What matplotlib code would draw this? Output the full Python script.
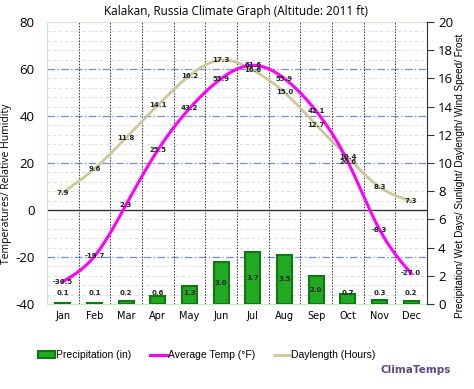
import numpy as np
import matplotlib
matplotlib.use("Agg")
import matplotlib.pyplot as plt
from matplotlib.patches import Patch
from matplotlib.lines import Line2D

months = ["Jan", "Feb", "Mar", "Apr", "May", "Jun", "Jul", "Aug", "Sep", "Oct", "Nov", "Dec"]
precip = [0.1, 0.1, 0.2, 0.6, 1.3, 3.0, 3.7, 3.5, 2.0, 0.7, 0.3, 0.2]
avg_temp = [-30.5, -19.7, 2.3, 25.5, 43.2, 55.9, 61.6, 55.9, 42.1, 20.6, -8.3, -27.0]
daylength = [7.9, 9.6, 11.8, 14.1, 16.2, 17.3, 16.6, 15.0, 12.7, 10.4, 8.3, 7.3]

def smooth(x, y, n=300):
    # natural cubic spline through the data points (rendering only)
    x = np.asarray(x, float); y = np.asarray(y, float)
    k = len(x); h = np.diff(x)
    A = np.zeros((k, k)); b = np.zeros(k)
    A[0, 0] = A[-1, -1] = 1
    for i in range(1, k - 1):
        A[i, i - 1] = h[i - 1]; A[i, i] = 2 * (h[i - 1] + h[i]); A[i, i + 1] = h[i]
        b[i] = 3 * ((y[i + 1] - y[i]) / h[i] - (y[i] - y[i - 1]) / h[i - 1])
    c = np.linalg.solve(A, b)
    xs = np.linspace(x[0], x[-1], n); ys = np.empty_like(xs)
    for j, t in enumerate(xs):
        i = min(np.searchsorted(x, t, side="right") - 1, k - 2)
        d = t - x[i]
        bb = (y[i + 1] - y[i]) / h[i] - h[i] * (2 * c[i] + c[i + 1]) / 3
        dd = (c[i + 1] - c[i]) / (3 * h[i])
        ys[j] = y[i] + bb * d + c[i] * d ** 2 + dd * d ** 3
    return xs, ys

W, H = 474, 389
fig = plt.figure(figsize=(W / 100, H / 100), dpi=100)
ax = fig.add_axes([47 / W, 1 - 304 / H, 380 / W, 282 / H])
ax2 = ax.twinx()

x = np.arange(12)
ax.set_xlim(-0.5, 11.5)
ax.set_ylim(-40, 80)
ax2.set_ylim(0, 20)

# grid
for v in np.arange(-40, 81, 4):
    if v % 20 != 0:
        ax.axhline(v, color="#dadada", lw=0.6, ls=(0, (4, 3)), zorder=0)
for v in [-20, 20, 40, 60]:
    ax.axhline(v, color="#6f8fd8", lw=0.9, ls=(0, (6, 2, 1, 2)), zorder=0)
ax.axhline(0, color="#333333", lw=1.0, zorder=1)
for b in np.arange(0.5, 11.5, 1):
    ax.axvline(b, color="#333333", lw=0.7, ls=(0, (1.5, 1.5)), zorder=0)

# bars on right axis
ax2.bar(x, precip, width=0.48, color="#22a822", edgecolor="#0d7a0d", lw=1.5, zorder=2)
for xi, v in zip(x, precip):
    ax2.text(xi, max(v / 2, 0.75), f"{v:.1f}", ha="center", va="center",
             fontsize=5, fontweight="bold", color="#222222", zorder=5)

# daylength on right axis
xs, ys = smooth(x, daylength)
ax2.plot(xs, ys, color="#c9c99a", lw=2, zorder=3)
for xi, v in zip(x, daylength):
    ax2.text(xi, v, f"{v:.1f}", ha="center", va="center", fontsize=5,
             fontweight="bold", color="#222222", zorder=5)

# temperature on left axis
xs, ys = smooth(x, avg_temp)
ax2.plot(xs, (ys + 40) / 6, color="#ff00ff", lw=2.2, zorder=4)
for xi, v in zip(x, avg_temp):
    ax2.text(xi, (v + 40) / 6, f"{v:.1f}", ha="center", va="center", fontsize=5,
             fontweight="bold", color="#222222", zorder=5)

ax.set_yticks(np.arange(-40, 81, 20))
ax.set_yticklabels([str(v) for v in range(-40, 81, 20)], fontsize=9.5, family="Open Sans")
ax.tick_params(axis="y", length=0, pad=9)
ax.set_xticks(x)
ax.set_xticklabels(months, fontsize=7)
ax.tick_params(axis="x", length=0, pad=5)

ax2.set_yticks(np.arange(0, 21, 2))
ax2.set_yticklabels([str(v) for v in range(0, 21, 2)], fontsize=9.5, family="Open Sans")
ax2.tick_params(axis="y", length=5, width=0.8, color="#333333", pad=3)

for s in ["left", "top", "bottom"]:
    ax.spines[s].set_color("#c8ecc8")
    ax2.spines[s].set_visible(False)
ax.spines["right"].set_visible(False)
ax2.spines["right"].set_color("#333333")

ax.set_ylabel("Temperatures/ Relative Humidity", fontsize=7.5, family="Open Sans")
ax.yaxis.set_label_coords(-0.092, 0.426)
ax2.set_ylabel("Precipitation/ Wet Days/ Sunlight/ Daylength/ Wind Speed/ Frost",
               fontsize=7.2, family="Liberation Sans", rotation=90, va="center")
ax2.yaxis.set_label_coords(1.087, 0.454)

fig.text(236 / W, 1 - 12 / H, "Kalakan, Russia Climate Graph (Altitude: 2011 ft)",
         ha="center", va="center", fontsize=8.5, family="Open Sans")

handles = [Patch(facecolor="#22a822", edgecolor="#0d7a0d", lw=1.5),
           Line2D([], [], color="#ff00ff", lw=2.2),
           Line2D([], [], color="#c9c99a", lw=2)]
fig.legend(handles, ["Precipitation (in)", "Average Temp (\u00b0F)", "Daylength (Hours)"],
           loc="center", bbox_to_anchor=(207 / W, 1 - 355 / H), ncol=3, frameon=False,
           prop={"family": "Liberation Sans", "size": 7.5}, handlelength=1.6,
           handleheight=0.6, handletextpad=0.1, columnspacing=1.8)

fig.text(451 / W, 1 - 370 / H, "ClimaTemps", ha="right", va="center", fontsize=7.5,
         fontweight="bold", color="#5a4a7e")

fig.savefig("out.png", dpi=100)
